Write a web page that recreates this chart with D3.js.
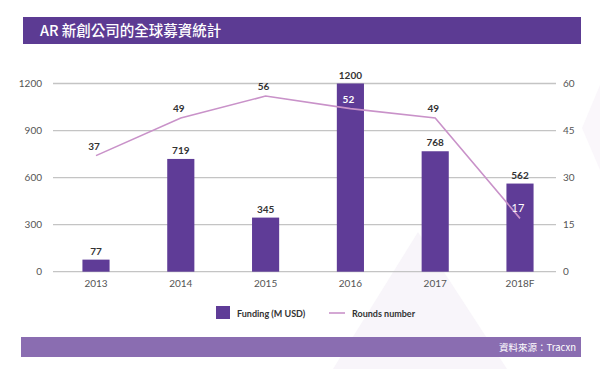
<!DOCTYPE html>
<html><head><meta charset="utf-8">
<script src="https://cdn.jsdelivr.net/npm/d3@7"></script>
<style>
html,body{margin:0;padding:0;background:#fff;}
svg{display:block;}
</style></head>
<body>
<svg id="chart" width="600" height="369"></svg>
<script>
const title = "AR 新創公司的全球募資統計";
const source = "資料來源：Tracxn";
const years = ["2013","2014","2015","2016","2017","2018F"];
const funding = [77, 719, 345, 1200, 768, 562];
const rounds = [37, 49, 56, 52, 49, 17];
const leftTicks = [0, 300, 600, 900, 1200];
const rightTicks = [0, 15, 30, 45, 60];
const insideLabels = ["2016", "2018F"]; // round labels drawn in white over bars

const svg = d3.select("#chart");
const font = "Lato, 'Noto Sans', sans-serif";
const cjk = "'Noto Sans CJK TC', 'Noto Sans CJK SC', sans-serif";

// decorative background shapes
svg.append("polygon").attr("points","418,232 333,369 507,369").attr("fill","#f8f5fa");
svg.append("polygon").attr("points","600,85 582,128 600,170").attr("fill","#faf7fb");

// title bar
svg.append("rect").attr("x",23).attr("y",17).attr("width",558).attr("height",27).attr("fill","#5c3b93");
svg.append("text").attr("x",40).attr("y",36).attr("fill","#fff")
  .attr("font-family",cjk).attr("font-size",14.5).attr("font-weight",500).text(title);

// bottom bar
svg.append("rect").attr("x",21).attr("y",337).attr("width",560).attr("height",20).attr("fill","#8a6db1");
svg.append("text").attr("x",576).attr("y",351).attr("text-anchor","end").attr("fill","#fff")
  .attr("font-family",cjk).attr("font-size",9.5).text(source);

const x = d3.scaleBand().domain(years).range([53.6, 562.4]).paddingInner(0.68).paddingOuter(0.34);
const yL = d3.scaleLinear().domain([0,1200]).range([271.7, 83.5]);
const yR = d3.scaleLinear().domain([0,60]).range([271.7, 83.5]);

// gridlines
svg.append("g").selectAll("line").data(leftTicks).join("line")
  .attr("x1",53).attr("x2",556)
  .attr("y1",d=>yL(d)).attr("y2",d=>yL(d))
  .attr("stroke","#c4c4c4").attr("stroke-width",1.3);

// left axis
const axL = d3.axisLeft(yL).tickValues(leftTicks).tickFormat(d3.format("d")).tickSize(0).tickPadding(0);
const gL = svg.append("g").attr("transform","translate(42,0)").call(axL);
gL.select(".domain").remove();
gL.selectAll("text").attr("font-family",font).attr("font-size",10).attr("fill","#555");

// right axis
const axR = d3.axisRight(yR).tickValues(rightTicks).tickFormat(d3.format("d")).tickSize(0).tickPadding(0);
const gR = svg.append("g").attr("transform","translate(563,0)").call(axR);
gR.select(".domain").remove();
gR.selectAll("text").attr("font-family",font).attr("font-size",10).attr("fill","#555");

// bottom axis labels
const axB = d3.axisBottom(x).tickSize(0).tickPadding(0);
const gB = svg.append("g").attr("transform","translate(0,280)").call(axB);
gB.select(".domain").remove();
gB.selectAll("text").attr("font-family",font).attr("font-size",10).attr("fill","#555");

// bars
svg.append("g").selectAll("rect").data(years).join("rect")
  .attr("x",d=>x(d)).attr("width",x.bandwidth())
  .attr("y",(d,i)=>yL(funding[i])).attr("height",(d,i)=>yL(0)-yL(funding[i]))
  .attr("fill","#5f3c97");

// bar labels
svg.append("g").selectAll("text").data(years).join("text")
  .attr("x",d=>x(d)+x.bandwidth()/2).attr("y",(d,i)=>yL(funding[i])-5)
  .attr("text-anchor","middle").attr("font-family",font).attr("font-weight",700)
  .attr("font-size",10).attr("fill","#333").text((d,i)=>funding[i]);

// line
const line = d3.line().x((d,i)=>x(years[i])+x.bandwidth()/2).y(d=>yR(d));
svg.append("path").datum(rounds).attr("d",line)
  .attr("fill","none").attr("stroke","#c992c9").attr("stroke-width",1.6);

// line labels
svg.append("g").selectAll("text").data(years).join("text")
  .attr("x",d=>x(d)+x.bandwidth()/2 - 2).attr("y",(d,i)=>yR(rounds[i])-6)
  .attr("text-anchor","middle").attr("font-family",font)
  .attr("font-weight",d=>d==="2018F"?400:700)
  .attr("font-size",d=>d==="2018F"?11:10)
  .attr("fill",d=>insideLabels.includes(d)?"#fff":"#333")
  .text((d,i)=>rounds[i]);

// legend
const lg = svg.append("g");
lg.append("rect").attr("x",216).attr("y",306).attr("width",14).attr("height",13).attr("fill","#5f3c97");
lg.append("text").attr("x",237).attr("y",317).attr("font-family",font).attr("font-weight",700)
  .attr("font-size",9).attr("fill","#333").text("Funding (M USD)");
lg.append("line").attr("x1",329).attr("x2",345).attr("y1",313).attr("y2",313)
  .attr("stroke","#c992c9").attr("stroke-width",1.6);
lg.append("text").attr("x",352).attr("y",317).attr("font-family",font).attr("font-weight",700)
  .attr("font-size",9).attr("fill","#333").text("Rounds number");
</script>
</body></html>
